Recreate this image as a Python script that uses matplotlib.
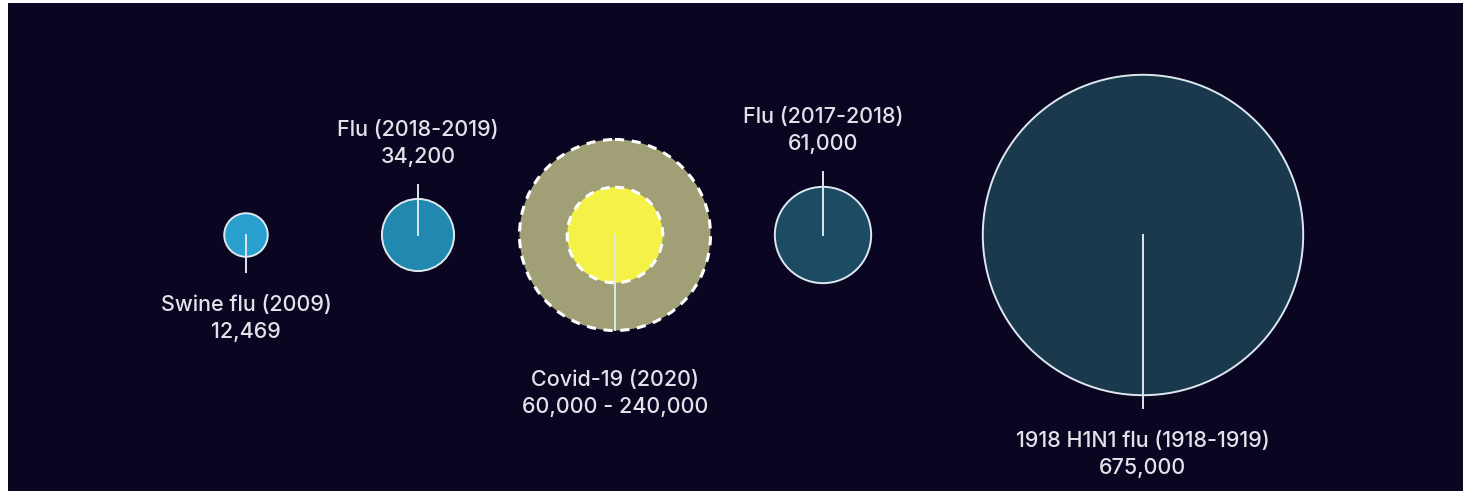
import numpy as np
import matplotlib.pyplot as plt
from matplotlib.patches import Circle

# data: deaths in the US
names = ["Swine flu (2009)", "Flu (2018-2019)", "Covid-19 (2020)",
         "Flu (2017-2018)", "1918 H1N1 flu (1918-1919)"]
value_text = ["12,469", "34,200", "60,000 - 240,000", "61,000", "675,000"]
deaths_low = [12469, 34200, 60000, 61000, 675000]
deaths_high = [12469, 34200, 240000, 61000, 675000]

# layout (pixels)
W, H = 1463, 495
cx = [246, 418, 615, 823, 1143]
cy = 235
k = 0.195  # px per sqrt(death)
fills = ["#2aa0cf", "#2189b0", "#a09f76", "#1d4b63", "#1a394d"]
label_y = [305, 130, 380, 117, 441]
stem_end = [272, 185, 330, 172, 408]

bg = "#0a0520"
txt_col = "#e2e2ea"
edge = "#dde8f0"

fig = plt.figure(figsize=(W / 100, H / 100), dpi=100, facecolor="white")
ax = fig.add_axes([8 / W, 4 / H, 1 - 8 / W, 1 - 7 / H])
ax.set_facecolor(bg)
ax.set_xlim(8, W)
ax.set_ylim(H - 4, 3)
ax.set_aspect("equal")
ax.axis("off")
ax.add_patch(plt.Rectangle((0, 0), W, H, color=bg, zorder=0))

for i in range(len(names)):
    r_hi = k * np.sqrt(deaths_high[i])
    r_lo = k * np.sqrt(deaths_low[i])
    if deaths_high[i] != deaths_low[i]:
        ax.add_patch(Circle((cx[i], cy), r_hi, facecolor=fills[i], edgecolor="white",
                            lw=2.2, ls=(0, (3, 2.5)), zorder=2))
        ax.add_patch(Circle((cx[i], cy), r_lo, facecolor="#f4f246", edgecolor="white",
                            lw=2.2, ls=(0, (3, 2.5)), zorder=3))
    else:
        ax.add_patch(Circle((cx[i], cy), r_hi, facecolor=fills[i], edgecolor=edge,
                            lw=1.4, zorder=2))
    ax.plot([cx[i], cx[i]], [cy, stem_end[i]], color=edge, lw=1.4, zorder=4)
    ax.text(cx[i], label_y[i], names[i], ha="center", va="center", color=txt_col,
            fontsize=15.5, family="Inter", fontweight="medium", zorder=5)
    ax.text(cx[i], label_y[i] + 27, value_text[i], ha="center", va="center",
            color=txt_col, fontsize=15.5, family="Inter", fontweight="medium", zorder=5)

fig.savefig("out.png", dpi=100, facecolor="white")
